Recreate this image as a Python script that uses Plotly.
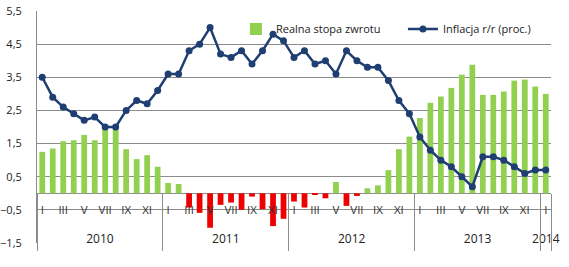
import plotly.graph_objects as go

# --- data -------------------------------------------------------------
month_names = ["I", "II", "III", "IV", "V", "VI", "VII", "VIII", "IX", "X", "XI", "XII"]
years = [2010, 2011, 2012, 2013, 2014]
months_per_year = [12, 12, 12, 12, 1]

realna = [
    1.25, 1.35, 1.57, 1.60, 1.76, 1.60, 1.95, 1.92, 1.33, 1.03, 1.15, 0.80,   # 2010
    0.31, 0.28, -0.43, -0.59, -1.04, -0.35, -0.28, -0.50, -0.10, -0.48, -0.99, -0.77,  # 2011
    -0.25, -0.43, -0.05, -0.15, 0.34, -0.38, -0.08, 0.15, 0.24, 0.70, 1.33, 1.71,  # 2012
    2.27, 2.73, 2.92, 3.18, 3.58, 3.88, 2.97, 2.97, 3.07, 3.40, 3.43, 3.22,   # 2013
    3.00,  # 2014
]
inflacja = [
    3.5, 2.9, 2.6, 2.4, 2.2, 2.3, 2.0, 2.0, 2.5, 2.8, 2.7, 3.1,
    3.6, 3.6, 4.3, 4.5, 5.0, 4.2, 4.1, 4.3, 3.9, 4.3, 4.8, 4.6,
    4.1, 4.3, 3.9, 4.0, 3.6, 4.3, 4.0, 3.8, 3.8, 3.4, 2.8, 2.4,
    1.7, 1.3, 1.0, 0.8, 0.5, 0.2, 1.1, 1.1, 1.0, 0.8, 0.6, 0.7,
    0.7,
]
y_ticks = [-1.5, -0.5, 0.5, 1.5, 2.5, 3.5, 4.5, 5.5]

# --- derived category positions ----------------------------------------
labels = []
year_of = []
for yr, n in zip(years, months_per_year):
    for m in range(n):
        labels.append(month_names[m])
        year_of.append(yr)
x = list(range(len(labels)))

month_tickvals = [i for i, lab in enumerate(labels) if month_names.index(lab) % 2 == 0]
month_ticktext = [labels[i] for i in month_tickvals]

year_tickvals, year_ticktext, boundaries = [], [], [-0.5]
start = 0
for yr, n in zip(years, months_per_year):
    year_tickvals.append(start + (n - 1) / 2)
    year_ticktext.append(str(yr))
    start += n
    boundaries.append(start - 0.5)

GREEN = "#92D050"
RED = "#EE0000"
NAVY = "#1F3F73"
GRID = "#8C8C8C"
FONT = "Open Sans"

ymin, ymax = y_ticks[0], y_ticks[-1]
zero_pos = (0 - ymin) / (ymax - ymin)
xr = [-0.5, len(x) - 0.5]

fig = go.Figure()
fig.add_trace(go.Bar(
    x=x, y=realna, name="Realna stopa zwrotu",
    marker=dict(color=[GREEN if v >= 0 else RED for v in realna], line=dict(width=0)),
    width=0.55,
))
fig.add_trace(go.Scatter(
    x=x, y=inflacja, name="Inflacja r/r (proc.)", mode="lines+markers",
    line=dict(color=NAVY, width=2.5),
    marker=dict(color=NAVY, size=7),
))

fig.update_layout(
    width=569, height=267,
    margin=dict(l=37, r=18, t=11, b=24, autoexpand=False),
    paper_bgcolor="white", plot_bgcolor="white",
    separators=", ",
    font=dict(family=FONT, size=11, color="#222222"),
    showlegend=True,
    legend=dict(orientation="h", x=0.387, y=0.985, xanchor="left", yanchor="top",
                bgcolor="rgba(255,255,255,0)", font=dict(size=11, color="#222222"),
                itemwidth=30, traceorder="normal", entrywidth=122),
    bargap=0.45,
    xaxis=dict(range=xr, showticklabels=False, showgrid=False, zeroline=False,
               showline=False, ticks=""),
    xaxis2=dict(overlaying="x", anchor="free", position=zero_pos, side="bottom",
                range=xr, tickmode="array", tickvals=month_tickvals, ticktext=month_ticktext,
                showgrid=False, zeroline=False, showline=False, ticks="",
                ticklabelstandoff=8, tickfont=dict(size=11.5, color="#333333")),
    xaxis3=dict(overlaying="x", anchor="free", position=0.056, side="bottom",
                range=xr, tickmode="array", tickvals=year_tickvals, ticktext=year_ticktext,
                showgrid=False, zeroline=False, showline=False, ticks="",
                tickfont=dict(size=12, color="#222222")),
    xaxis4=dict(overlaying="x", anchor="free", position=zero_pos, side="bottom",
                range=xr, tickmode="array", tickvals=boundaries, showticklabels=False,
                showgrid=False, zeroline=False, showline=False, ticks="outside",
                ticklen=57, tickwidth=1, tickcolor=GRID),
    yaxis=dict(range=[ymin, ymax], tickmode="array", tickvals=y_ticks,
               tickformat=".1f", showgrid=True, gridcolor=GRID, gridwidth=1,
               zeroline=True, zerolinecolor=GRID, zerolinewidth=1,
               showline=True, linecolor=GRID, linewidth=1, ticks="",
               ticklabelstandoff=12, tickfont=dict(size=11, color="#222222")),
)
# invisible helper traces so overlay axes are drawn
for ax in ["x2", "x3", "x4"]:
    fig.add_trace(go.Scatter(x=[xr[0]], y=[None], xaxis=ax, showlegend=False,
                             hoverinfo="skip", mode="markers"))

fig.write_html("out.html")
